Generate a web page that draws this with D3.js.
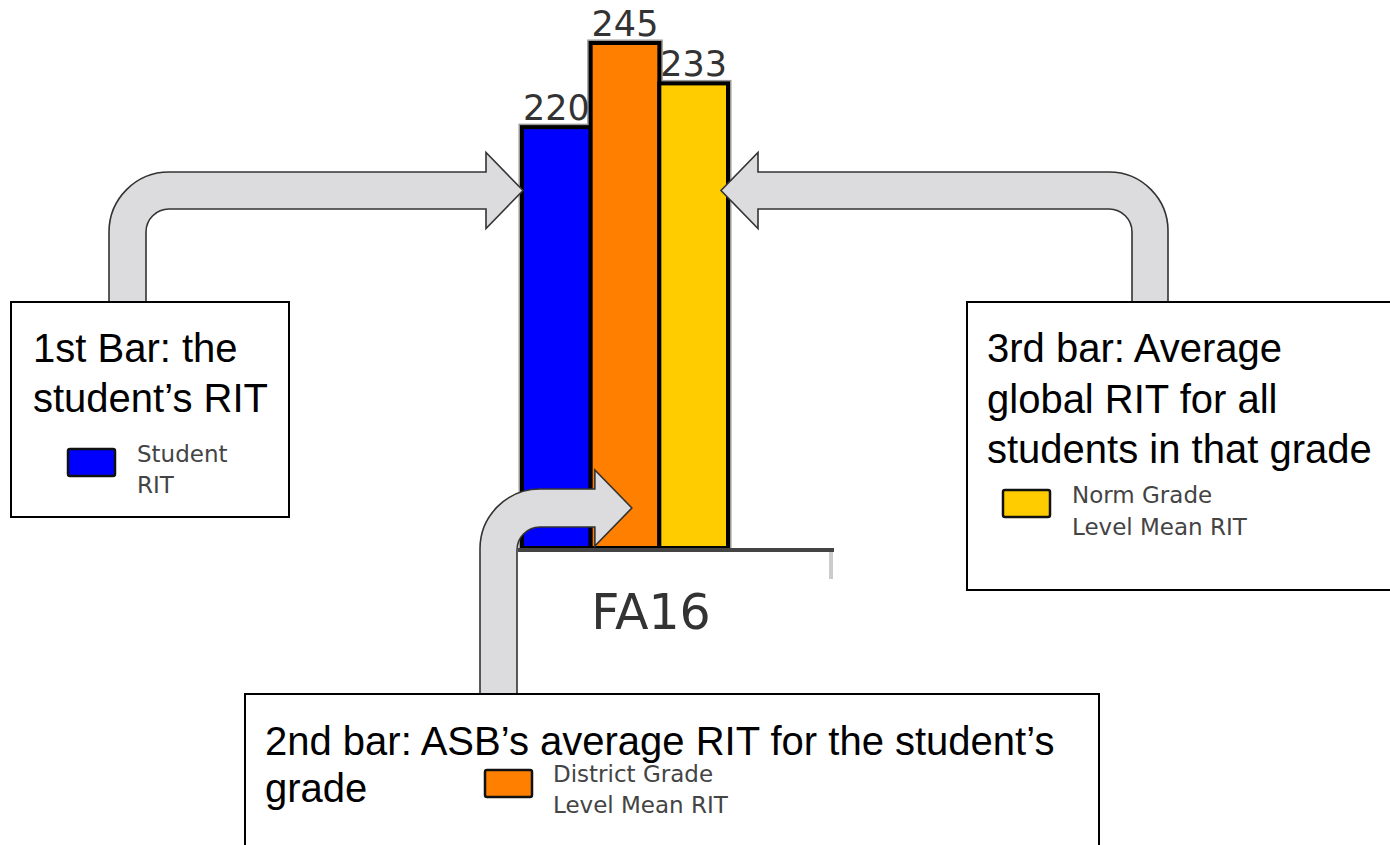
<!DOCTYPE html>
<html>
<head>
<meta charset="utf-8">
<script src="https://cdn.jsdelivr.net/npm/d3@7"></script>
<style>
  html, body { margin: 0; padding: 0; background: #fff; }
  svg { display: block; }
  .note { font-family: "Liberation Sans", Arial, sans-serif; font-size: 40px; fill: #000; }
  .legend-text { font-family: "DejaVu Sans", sans-serif; font-size: 23px; fill: #444; }
  .value-label { font-family: "DejaVu Sans", sans-serif; font-size: 35px; fill: #333; }
  .arrow { fill: #dcdcde; stroke: #333; stroke-width: 1.6; }
  .box { fill: #fff; stroke: #000; stroke-width: 2; }
</style>
</head>
<body>
<div id="chart"></div>
<script>
// data
const categories = ["Student RIT", "District Grade Level Mean RIT", "Norm Grade Level Mean RIT"];
const values = [220, 245, 233];
const terms = ["FA16"];
const barColors = ["#0000ff", "#ff8000", "#ffcc00"];
const legendLines = [["Student", "RIT"], ["District Grade", "Level Mean RIT"], ["Norm Grade", "Level Mean RIT"]];
const noteLines = [
  ["1st Bar: the", "student\u2019s RIT"],
  ["2nd bar: ASB\u2019s average RIT for the student\u2019s", "grade"],
  ["3rd bar: Average", "global RIT for all", "students in that grade"],
];

const width = 1390,
  height = 845;

const svg = d3.select("#chart").append("svg").attr("width", width).attr("height", height);

const x = d3.scaleBand().domain(categories).range([522, 728]).padding(0);
const y = d3.scaleLinear().domain([95, 245]).range([548, 43]);
const xTerm = d3.scaleBand().domain(terms).range([518, 784]);

// bars
const bars = svg.append("g");
bars
  .selectAll("rect.halo")
  .data(values)
  .join("rect")
  .attr("class", "halo")
  .attr("x", (d, i) => x(categories[i]))
  .attr("y", (d) => y(d))
  .attr("width", x.bandwidth())
  .attr("height", (d) => y.range()[0] - y(d))
  .attr("fill", "none")
  .attr("stroke", "#999")
  .attr("stroke-width", 7);

bars
  .selectAll("rect.bar")
  .data(values)
  .join("rect")
  .attr("class", "bar")
  .attr("x", (d, i) => x(categories[i]))
  .attr("y", (d) => y(d))
  .attr("width", x.bandwidth())
  .attr("height", (d) => y.range()[0] - y(d))
  .attr("fill", (d, i) => barColors[i])
  .attr("stroke", "#000")
  .attr("stroke-width", 4);

bars
  .selectAll("text")
  .data(values)
  .join("text")
  .attr("class", "value-label")
  .attr("x", (d, i) => x(categories[i]) + x.bandwidth() / 2)
  .attr("y", (d) => y(d) - 7)
  .attr("text-anchor", "middle")
  .text((d) => d);

// axis baseline + term label
svg
  .append("line")
  .attr("x1", 831).attr("x2", 831)
  .attr("y1", 550).attr("y2", 579)
  .attr("stroke", "#ccc").attr("stroke-width", 4);
svg
  .append("line")
  .attr("x1", 518).attr("x2", 834)
  .attr("y1", y.range()[0] + 2).attr("y2", y.range()[0] + 2)
  .attr("stroke", "#444").attr("stroke-width", 4);

const axis = svg
  .append("g")
  .attr("transform", `translate(0,${y.range()[0] + 2})`)
  .call(d3.axisBottom(xTerm).tickSize(0).tickPadding(44));
axis.select(".domain").remove();
axis
  .selectAll("text")
  .attr("font-family", "DejaVu Sans, sans-serif")
  .attr("font-size", 49)
  .attr("fill", "#333");

// elbow arrows: vertical leg rising from a box, bending into a horizontal shaft
function elbowArrow(o) {
  // o: outer, inner (x of vertical leg), bottom, top/bot (shaft y), tip, dir (+1 right, -1 left)
  const R = Math.abs(o.outer - o.inner) + 23,
    r = 23,
    cx = o.inner + o.dir * r,
    cy = o.bot + r;
  const head = o.tip - o.dir * 37,
    mid = (o.top + o.bot) / 2,
    sweep = o.dir > 0 ? 1 : 0;
  return [
    `M${o.outer},${o.bottom}`,
    `L${o.outer},${cy}`,
    `A${R},${R} 0 0 ${sweep} ${cx},${o.top}`,
    `L${head},${o.top}`,
    `L${head},${mid - 38}`,
    `L${o.tip},${mid}`,
    `L${head},${mid + 38}`,
    `L${head},${o.bot}`,
    `L${cx},${o.bot}`,
    `A${r},${r} 0 0 ${1 - sweep} ${o.inner},${cy}`,
    `L${o.inner},${o.bottom}`,
    "Z",
  ].join(" ");
}

const arrows = [
  { outer: 109, inner: 146, bottom: 303, top: 172, bot: 209, tip: x(categories[0]) + 1, dir: 1 },
  { outer: 480, inner: 517, bottom: 695, top: 489, bot: 527, tip: x(categories[1]) + x.bandwidth() * 0.6, dir: 1 },
  { outer: 1168, inner: 1132, bottom: 303, top: 172, bot: 209, tip: x(categories[2]) + x.bandwidth() - 7, dir: -1 },
];

svg
  .append("g")
  .selectAll("path")
  .data(arrows)
  .join("path")
  .attr("class", "arrow")
  .attr("d", elbowArrow);

// annotation boxes
const boxes = [
  { x: 11, y: 302, w: 278, h: 215, tx: 33, ty: 362, lh: 50, sx: 68, sy: 449, lx: 137, ly: 462, llh: 31, c: 0 },
  { x: 245, y: 694, w: 854, h: 170, tx: 265, ty: 755, lh: 47, sx: 485, sy: 770, lx: 553, ly: 782, llh: 31, c: 1 },
  { x: 967, y: 302, w: 440, h: 288, tx: 987, ty: 362, lh: 50.5, sx: 1003, sy: 490, lx: 1072, ly: 503, llh: 32, c: 2 },
];

const bg = svg.append("g").selectAll("g").data(boxes).join("g");

bg.append("rect")
  .attr("class", "box")
  .attr("x", (d) => d.x)
  .attr("y", (d) => d.y)
  .attr("width", (d) => d.w)
  .attr("height", (d) => d.h);

bg.append("text")
  .attr("class", "note")
  .selectAll("tspan")
  .data((d) => noteLines[d.c].map((t, i) => ({ t, x: d.tx, y: d.ty + i * d.lh })))
  .join("tspan")
  .attr("x", (d) => d.x)
  .attr("y", (d) => d.y)
  .text((d) => d.t);

bg.append("rect")
  .attr("x", (d) => d.sx)
  .attr("y", (d) => d.sy)
  .attr("width", 47)
  .attr("height", 27)
  .attr("rx", 2)
  .attr("fill", (d) => barColors[d.c])
  .attr("stroke", "#111")
  .attr("stroke-width", 2.5);

bg.append("text")
  .attr("class", "legend-text")
  .selectAll("tspan")
  .data((d) => legendLines[d.c].map((t, i) => ({ t, x: d.lx, y: d.ly + i * d.llh })))
  .join("tspan")
  .attr("x", (d) => d.x)
  .attr("y", (d) => d.y)
  .text((d) => d.t);
</script>
</body>
</html>
